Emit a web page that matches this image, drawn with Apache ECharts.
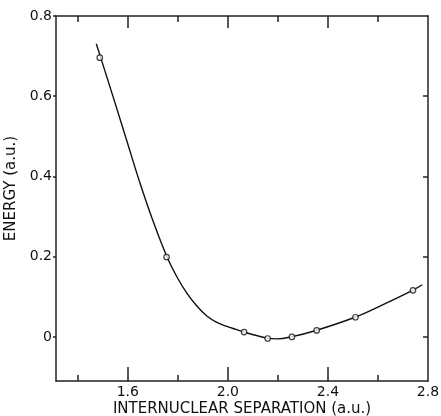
<!DOCTYPE html>
<html>
<head>
<meta charset="utf-8">
<script src="https://cdn.jsdelivr.net/npm/echarts@6/dist/echarts.min.js"></script>
<style>
html,body{margin:0;padding:0;background:#fff;}
#chart{width:441px;height:416px;}
</style>
</head>
<body>
<div id="chart"></div>
<script>
// Fitted curve
var curveX = [1.474, 1.541, 1.595, 1.648, 1.702, 1.757, 1.796, 1.836, 1.876, 1.916, 1.956, 1.996, 2.036, 2.066, 2.110, 2.157, 2.197, 2.253, 2.352, 2.508, 2.612, 2.738, 2.777];
var curveY = [0.731, 0.599, 0.491, 0.385, 0.287, 0.199, 0.150, 0.109, 0.077, 0.052, 0.036, 0.026, 0.018, 0.012, 0.004, -0.003, -0.005, 0.000, 0.016, 0.049, 0.078, 0.116, 0.130];
// Computed points (open circles)
var pointX = [1.488, 1.755, 2.065, 2.159, 2.256, 2.355, 2.51, 2.74];
var pointY = [0.696, 0.199, 0.012, -0.004, 0.000, 0.016, 0.049, 0.116];
// Ticks
var xMajorTicks = [1.6, 2.0, 2.4, 2.8];
var xMinorTicks = [1.4, 1.8, 2.2, 2.6];
var yTicks = [0, 0.2, 0.4, 0.6, 0.8];

var X_MIN = 1.313, X_MAX = 2.8, Y_MIN = -0.11, Y_MAX = 0.8;
var AXIS_COLOR = '#222';
var FONT = 'DejaVu Sans';

function fmt(v) { return Math.abs(v) < 1e-9 ? '0' : v.toFixed(1); }

function zip(a, b) { return a.map(function (v, i) { return [v, b[i]]; }); }

var chart = echarts.init(document.getElementById('chart'), null, {renderer: 'canvas'});

function xAx(pos, ticks, len, showLine, extra) {
  var o = {
    type: 'value', position: pos, min: X_MIN, max: X_MAX,
    splitLine: {show: false},
    axisLine: {show: showLine, onZero: false, lineStyle: {color: AXIS_COLOR, width: 1.5}},
    axisTick: {show: true, inside: true, length: len, customValues: ticks, lineStyle: {color: AXIS_COLOR, width: 1.5}},
    axisLabel: {show: false}
  };
  return Object.assign(o, extra || {});
}

var option = {
  animation: false,
  backgroundColor: '#fff',
  grid: {left: 56, right: 13, top: 16, bottom: 35, containLabel: false, outerBoundsMode: 'none'},
  xAxis: [
    xAx('bottom', xMajorTicks.slice(0, 3), 14, true, {
      name: 'INTERNUCLEAR SEPARATION (a.u.)',
      nameLocation: 'middle', nameGap: 21, nameMoveOverlap: false,
      nameTextStyle: {fontFamily: FONT, fontSize: 15, color: '#111'},
      axisLabel: {show: true, customValues: xMajorTicks, margin: 4, formatter: fmt,
        fontFamily: FONT, fontSize: 14, color: '#111'}
    }),
    xAx('bottom', xMinorTicks, 6, false),
    xAx('top', xMajorTicks.slice(0, 3), 12, true),
    xAx('top', xMinorTicks, 6, false)
  ],
  yAxis: [
    {
      type: 'value', position: 'left', min: Y_MIN, max: Y_MAX,
      name: 'ENERGY (a.u.)', nameLocation: 'middle', nameGap: 37, nameRotate: 90, nameMoveOverlap: false,
      nameTextStyle: {fontFamily: FONT, fontSize: 15, color: '#111', padding: [0, 0, 0, 20]},
      splitLine: {show: false},
      axisLine: {show: true, onZero: false, lineStyle: {color: AXIS_COLOR, width: 1.5}},
      axisTick: {show: true, inside: false, length: 3, customValues: yTicks, lineStyle: {color: AXIS_COLOR, width: 1.5}},
      axisLabel: {show: true, customValues: yTicks, margin: 4, formatter: fmt,
        fontFamily: FONT, fontSize: 14, color: '#111'}
    },
    {
      type: 'value', position: 'right', min: Y_MIN, max: Y_MAX,
      splitLine: {show: false},
      axisLine: {show: true, onZero: false, lineStyle: {color: AXIS_COLOR, width: 1.5}},
      axisTick: {show: true, inside: true, length: 5, customValues: yTicks.slice(0, 4), lineStyle: {color: AXIS_COLOR, width: 1.5}},
      axisLabel: {show: false}
    }
  ],
  series: [
    {
      type: 'line', xAxisIndex: 0, yAxisIndex: 0,
      data: zip(curveX, curveY),
      smooth: 0.4, showSymbol: false, symbol: 'none',
      lineStyle: {color: '#111', width: 1.4},
      silent: true, z: 2
    },
    {
      type: 'scatter', xAxisIndex: 0, yAxisIndex: 0,
      data: zip(pointX, pointY),
      symbol: 'circle', symbolSize: 5.5,
      itemStyle: {color: '#fff', borderColor: '#111', borderWidth: 1.2},
      silent: true, z: 3
    }
  ]
};
chart.setOption(option);
</script>
</body>
</html>
